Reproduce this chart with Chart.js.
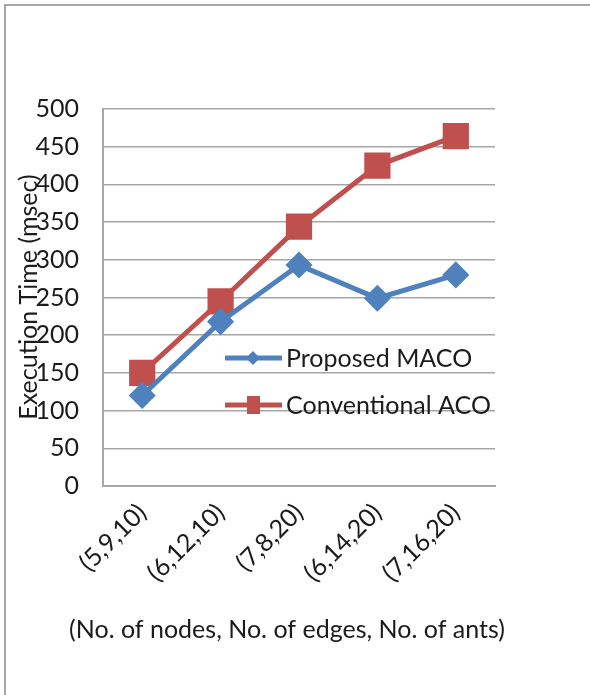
<!DOCTYPE html>
<html lang="en">
  <head>
    <meta charset="utf-8" />
    <title>Execution Time: Proposed MACO vs Conventional ACO</title>
    <style>
      * {
        margin: 0;
        padding: 0;
      }
      body {
        background: #fff;
        width: 590px;
        height: 695px;
        overflow: hidden;
        position: relative;
      }
      .frame {
        position: absolute;
        left: 4px;
        top: 4px;
        width: 700px;
        height: 800px;
        border-left: 2px solid #a6a6a6;
        border-top: 2px solid #a6a6a6;
      }
      .chartBox {
        position: absolute;
        left: 0;
        top: 0;
        width: 590px;
        height: 695px;
      }
    </style>
  </head>
  <body>
    <div class="frame"></div>
    <div class="chartBox">
      <canvas id="myChart" width="590" height="695"></canvas>
    </div>
    <script src="https://cdn.jsdelivr.net/npm/chart.js"></script>
    <script>
      // data
      const categories = ['(5,9,10)', '(6,12,10)', '(7,8,20)', '(6,14,20)', '(7,16,20)'];
      const seriesNames = ['Proposed MACO', 'Conventional ACO'];
      const macoTimes = [120, 218, 293, 249, 280];
      const acoTimes = [150, 245, 344, 425, 464];
      const yTitle = 'Execution Time (msec)';
      const xTitle = '(No. of nodes, No. of edges, No. of ants)';

      const FONT = 'Lato, "Open Sans", sans-serif';
      const TEXT = '#1b1b1b';
      const SIZE = 25;

      // axis titles + legend drawn by hand so they can sit where excel put them
      const extras = {
        id: 'extras',
        afterDraw(chart) {
          const { ctx, chartArea } = chart;
          ctx.save();
          ctx.fillStyle = TEXT;
          ctx.font = SIZE + 'px ' + FONT;
          ctx.textAlign = 'center';
          ctx.textBaseline = 'middle';

          // y title (overlaps the tick labels, like the original)
          ctx.save();
          ctx.translate(29, 297);
          ctx.rotate(-Math.PI / 2);
          ctx.fillText(yTitle, 0, 0);
          ctx.restore();

          // x title
          ctx.fillText(xTitle, 287, 630);

          // legend
          const rows = [358, 405];
          chart.data.datasets.forEach((ds, i) => {
            const y = rows[i];
            ctx.strokeStyle = ds.borderColor;
            ctx.lineWidth = 5;
            ctx.beginPath();
            ctx.moveTo(225, y);
            ctx.lineTo(282, y);
            ctx.stroke();
            ctx.fillStyle = ds.borderColor;
            ctx.beginPath();
            if (ds.pointStyle === 'rectRot') {
              ctx.moveTo(253 - 7, y);
              ctx.lineTo(253, y - 7);
              ctx.lineTo(253 + 7, y);
              ctx.lineTo(253, y + 7);
              ctx.closePath();
            } else {
              ctx.rect(247, y - 9, 13, 18);
            }
            ctx.fill();
            ctx.fillStyle = TEXT;
            ctx.textAlign = 'left';
            ctx.fillText(ds.label, 286, y + 1);
          });
          ctx.restore();
        },
      };

      const data = {
        labels: categories,
        datasets: [
          {
            label: seriesNames[0],
            data: macoTimes,
            borderColor: '#4f81bd',
            backgroundColor: '#4f81bd',
            borderWidth: 5,
            pointStyle: 'rectRot',
            pointRadius: 10,
            pointHoverRadius: 10,
          },
          {
            label: seriesNames[1],
            data: acoTimes,
            borderColor: '#c0504d',
            backgroundColor: '#c0504d',
            borderWidth: 5,
            pointStyle: 'rect',
            pointRadius: 15,
            pointHoverRadius: 15,
          },
        ],
      };

      const config = {
        type: 'line',
        data,
        options: {
          responsive: false,
          animation: false,
          layout: {
            padding: { top: 109, right: 95, bottom: 0, left: 0 },
          },
          scales: {
            x: {
              offset: true,
              afterFit: (s) => {
                s.height = 695 - 486;
              },
              grid: { display: false, drawTicks: false },
              border: { color: '#a6a6a6', width: 2 },
              ticks: {
                minRotation: 45,
                maxRotation: 45,
                padding: 12,
                color: TEXT,
                font: { family: FONT, size: SIZE },
              },
            },
            y: {
              min: 0,
              max: 500,
              afterFit: (s) => {
                s.width = 103;
              },
              grid: { color: '#a6a6a6', lineWidth: 1.5, drawTicks: false },
              border: { color: '#a6a6a6', width: 2 },
              ticks: {
                stepSize: 50,
                padding: 24,
                color: TEXT,
                font: { family: FONT, size: SIZE },
              },
            },
          },
          plugins: {
            legend: { display: false },
            tooltip: { enabled: false },
          },
        },
        plugins: [extras],
      };

      const myChart = new Chart(document.getElementById('myChart'), config);
    </script>
  </body>
</html>
